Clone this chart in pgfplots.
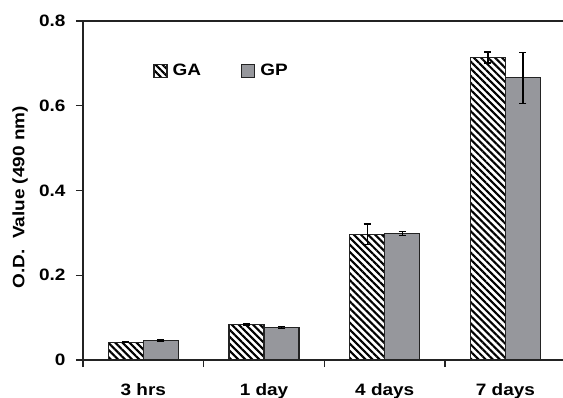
\documentclass[border=0pt]{standalone}
\usepackage{pgfplots}
\pgfplotsset{compat=1.18}
\usetikzlibrary{patterns.meta}
\usepackage{fontspec}
\setmainfont{Liberation Sans}[FakeStretch=1.15]
\definecolor{gpgray}{RGB}{150,151,156}
\definecolor{edge}{RGB}{35,35,35}
\pgfplotsset{boxlegend/.style={legend image code/.code={\draw[##1, line width=1.3pt] (0pt,-6.5pt) rectangle (13pt,6.5pt);}}}
\pgfplotstableread{
x y e
0 0.042 0.001
1 0.083 0.002
2 0.297 0.024
3 0.714 0.013
}\ga
\pgfplotstableread{
x y e
0 0.046 0.001
1 0.077 0.002
2 0.299 0.005
3 0.666 0.060
}\gp
\begin{document}
\begin{tikzpicture}
\begin{axis}[
  scale only axis, width=480pt, height=339pt,
  xmin=-0.5, xmax=3.477, ymin=0, ymax=0.8,
  axis x line*=box, axis y line*=left,
  axis line style={edge, line width=1.3pt},
  xtick={0,1,2,3}, xticklabels={3 hrs,1 day,4 days,7 days},
  minor xtick={-0.5,0.5,1.5,2.5},
  xtick pos=bottom, ytick pos=left,
  tick align=outside,
  major tick length=7pt, minor tick length=7pt,
  tick style={edge, line width=1.2pt},
  major x tick style={draw=none},
  ytick={0,0.2,0.4,0.6,0.8},
  /pgf/number format/assume math mode=true,
  ticklabel style={font=\fontsize{16.5}{18}\selectfont\bfseries},
  xticklabel style={yshift=-13pt},
  yticklabel style={xshift=-7pt},
  ylabel={O.D.\ \ Value (490 nm)},
  ylabel style={font=\fontsize{16.5}{18}\selectfont\bfseries, at={(axis description cs:-0.131,0.48)}, anchor=center},
  legend columns=2,
  legend style={at={(axis description cs:0.14,0.853)}, anchor=west, draw=none, fill=none,
    font=\fontsize{16.5}{18}\selectfont\bfseries, /tikz/column sep=3pt, /tikz/every even column/.append style={column sep=38pt}},
  ybar, bar width=35pt,
  clip=false,
]
\addplot[ybar, bar shift=-17.5pt, draw=edge, line width=1.3pt,
  pattern={Lines[angle=-45, distance=5pt, line width=2.1pt]}, pattern color=black,
  boxlegend,
  error bars/.cd, y dir=both, y explicit,
  error bar style={black, line width=1.2pt},
  error mark options={rotate=90, mark size=3.5pt, line width=1.2pt, black}]
  table[x=x, y=y, y error=e]{\ga};
\addlegendentry{GA}
\addplot[ybar, bar shift=17.5pt, draw=edge, line width=1.3pt, fill=gpgray,
  boxlegend,
  error bars/.cd, y dir=both, y explicit,
  error bar style={black, line width=1.2pt},
  error mark options={rotate=90, mark size=3.5pt, line width=1.2pt, black}]
  table[x=x, y=y, y error=e]{\gp};
\addlegendentry{GP}
\coordinate (O) at (rel axis cs:0,0);
\end{axis}
\pgfresetboundingbox
\path (O) ++(-83pt,-37pt) rectangle ++(563pt,397pt);
\end{tikzpicture}
\end{document}
